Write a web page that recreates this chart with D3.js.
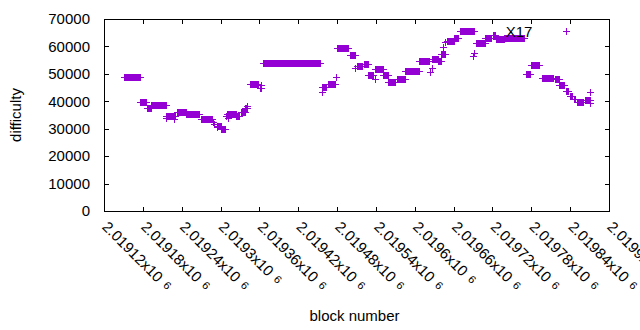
<!DOCTYPE html>
<html>
<head>
<meta charset="utf-8">
<script src="https://cdn.jsdelivr.net/npm/d3@7"></script>
<style>
  body { margin: 0; background: #fff; }
  text { font-family: "Liberation Sans", Arial, sans-serif; fill: #000; }
</style>
</head>
<body>
<svg id="chart" width="640" height="330"></svg>
<script>
// runs of consecutive blocks that share one difficulty (block offset from 2019000)
var runStart = [152, 177, 187, 194, 217, 233, 248, 271, 296, 302, 310, 325, 333, 339, 346, 361, 367,
  458, 466, 480, 500, 511, 522, 529, 540, 552, 560, 573, 586, 608, 628, 637, 642, 650, 662, 670,
  696, 710, 721, 727, 739, 772, 780, 797, 817, 824, 834, 840, 846, 851, 863];
var runEnd = [176, 186, 193, 216, 230, 247, 268, 288, 301, 308, 324, 330, 338, 341, 359, 364, 455,
  464, 477, 498, 508, 520, 528, 537, 551, 559, 571, 585, 607, 622, 636, 641, 647, 661, 668, 693,
  709, 719, 725, 738, 770, 778, 793, 815, 823, 832, 838, 844, 849, 861, 871];
var runDiff = [48500, 39600, 37500, 38300, 34600, 35900, 35200, 33200, 30700, 29700, 35100, 34400,
  35900, 37200, 46200, 44500, 53800, 45200, 46100, 59300, 56800, 52700, 53400, 49500, 51600, 49500,
  46800, 48100, 51000, 54600, 55300, 54400, 56900, 61700, 63000, 65400, 61000, 62800, 64000, 62400,
  63000, 49900, 53100, 48400, 47800, 45600, 43400, 41900, 40800, 39600, 40400];

// isolated blocks
var singleBlock = [217, 229, 289, 291, 295, 309, 312, 342, 363, 457, 479, 509, 539, 625, 627, 644,
  648, 691, 692, 835, 871, 872];
var singleDiff = [33700, 33200, 32400, 31400, 30300, 34400, 33700, 38200, 45600, 43200, 48700, 52000,
  47800, 50600, 52000, 59700, 61300, 56300, 57500, 65400, 39200, 43100];

var blockBase = 2019000;
var xTicks = [2019120, 2019180, 2019240, 2019300, 2019360, 2019420, 2019480, 2019540, 2019600,
  2019660, 2019720, 2019780, 2019840, 2019900];
var xTickLabels = ["2.01912", "2.01918", "2.01924", "2.0193", "2.01936", "2.01942", "2.01948",
  "2.01954", "2.0196", "2.01966", "2.01972", "2.01978", "2.01984", "2.0199"];
var yTicks = [0, 10000, 20000, 30000, 40000, 50000, 60000, 70000];

var noteBlock = 2019739, noteDiff = 65400, noteText = "X17";

var margin = { left: 104, right: 31, top: 19, bottom: 119 },
  width = 640 - margin.left - margin.right,
  height = 330 - margin.top - margin.bottom;

var svg = d3.select("#chart");

var x = d3.scaleLinear().domain([2019120, 2019900]).range([margin.left, margin.left + width]);
var y = d3.scaleLinear().domain([0, 70000]).range([margin.top + height, margin.top]);

// build the point list from the runs and the single blocks
var points = [];
for (var i = 0; i < runStart.length; i++) {
  for (var b = runStart[i]; b <= runEnd[i]; b++) {
    points.push({ block: blockBase + b, diff: runDiff[i] });
  }
}
singleBlock.forEach(function (b, i) {
  points.push({ block: blockBase + b, diff: singleDiff[i] });
});

var tickLen = 4.5;
var plotL = margin.left, plotR = margin.left + width, plotT = margin.top, plotB = margin.top + height;

// ticks on all four sides, pointing inward
var g = svg.append("g").attr("stroke", "#000").attr("stroke-width", 1).attr("shape-rendering", "crispEdges");
g.selectAll("line.yt").data(yTicks).join("line")
  .attr("x1", plotL).attr("x2", plotL + tickLen)
  .attr("y1", function (d) { return Math.round(y(d)) + 0.5 })
  .attr("y2", function (d) { return Math.round(y(d)) + 0.5 });
g.selectAll("line.yr").data(yTicks).join("line")
  .attr("x1", plotR).attr("x2", plotR - tickLen)
  .attr("y1", function (d) { return Math.round(y(d)) + 0.5 })
  .attr("y2", function (d) { return Math.round(y(d)) + 0.5 });
g.selectAll("line.xb").data(xTicks).join("line")
  .attr("x1", function (d) { return Math.round(x(d)) + 0.5 })
  .attr("x2", function (d) { return Math.round(x(d)) + 0.5 })
  .attr("y1", plotB).attr("y2", plotB - tickLen);
g.selectAll("line.xt").data(xTicks).join("line")
  .attr("x1", function (d) { return Math.round(x(d)) + 0.5 })
  .attr("x2", function (d) { return Math.round(x(d)) + 0.5 })
  .attr("y1", plotT).attr("y2", plotT + tickLen);

// plot border
svg.append("rect")
  .attr("x", plotL + 0.5).attr("y", plotT + 0.5)
  .attr("width", width).attr("height", height)
  .attr("fill", "none").attr("stroke", "#000").attr("stroke-width", 1)
  .attr("shape-rendering", "crispEdges");

// y tick labels
svg.selectAll("text.ylab").data(yTicks).join("text")
  .attr("class", "ylab")
  .attr("x", plotL - 14)
  .attr("y", function (d) { return y(d) })
  .attr("dy", "0.35em")
  .attr("text-anchor", "end")
  .style("font-size", "15px")
  .text(function (d) { return d });

// x tick labels, rotated, with the gnuplot style exponent
var xl = svg.selectAll("text.xlab").data(xTicks).join("text")
  .attr("class", "xlab")
  .attr("transform", function (d) { return "translate(" + (x(d) + 1) + "," + (plotB + 13) + ") rotate(45)" })
  .attr("dy", "0.35em")
  .style("font-size", "15px");
xl.append("tspan").text(function (d, i) { return xTickLabels[i] + "x10" });
xl.append("tspan").attr("dx", 6).attr("dy", -2).style("font-size", "11px").text("6");

// axis titles
svg.append("text")
  .attr("transform", "translate(21," + (plotT + height / 2) + ") rotate(-90)")
  .attr("text-anchor", "middle")
  .style("font-size", "15px")
  .text("difficulty");
svg.append("text")
  .attr("x", plotL + width / 2 - 2)
  .attr("y", 321)
  .attr("text-anchor", "middle")
  .style("font-size", "15px")
  .text("block number");

// the points, drawn as gnuplot style plus marks
var r = 3.5;
svg.append("g")
  .attr("stroke", "#9400d3").attr("stroke-width", 1).attr("fill", "none")
  .attr("shape-rendering", "crispEdges")
  .selectAll("path").data(points).join("path")
  .attr("d", function (d) {
    var px = x(d.block), py = y(d.diff);
    return "M" + (px - r) + "," + py + "h" + (2 * r) + "M" + px + "," + (py - r) + "v" + (2 * r);
  });

// annotation
svg.append("text")
  .attr("x", x(noteBlock) + 1)
  .attr("y", y(noteDiff))
  .attr("dy", "0.35em")
  .style("font-size", "15px")
  .text(noteText);
</script>
</body>
</html>
